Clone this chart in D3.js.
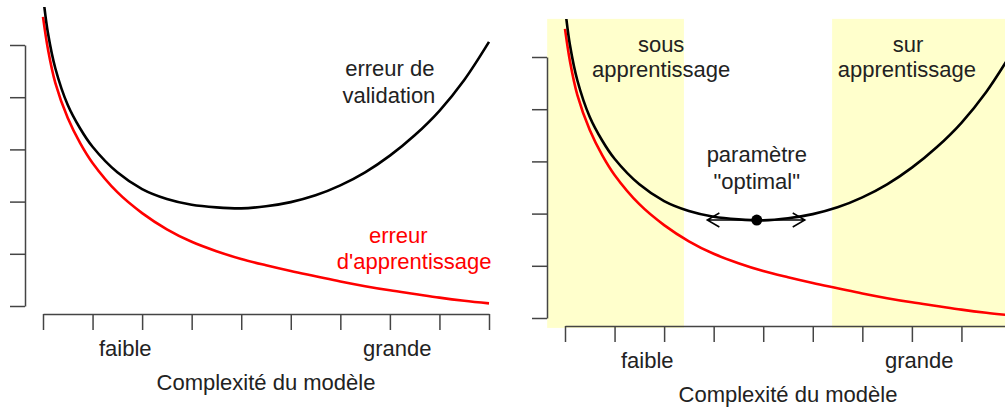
<!DOCTYPE html>
<html>
<head>
<meta charset="utf-8">
<script src="https://cdn.jsdelivr.net/npm/d3@7"></script>
<style>
  html, body { margin: 0; padding: 0; background: #fff; }
  svg text { font-family: "Liberation Sans", Arial, Helvetica, sans-serif; fill: #222; }
</style>
</head>
<body>
<svg id="chart" width="1005" height="410"></svg>
<script>
// ---- data ----
const complexity = [0, 0.1, 0.25, 0.5, 0.75, 1, 1.5, 2, 2.5, 3, 3.5, 4, 4.5, 5, 5.5, 6, 6.5, 7, 7.5, 8, 8.5, 9];
const validationError = [5.95, 5.23, 4.55, 3.85, 3.40, 3.05, 2.56, 2.24, 2.05, 1.94, 1.89, 1.87, 1.91, 1.99, 2.12, 2.31, 2.56, 2.88, 3.27, 3.74, 4.33, 5.06];
const trainingError = [5.54, 4.92, 4.27, 3.6, 3.12, 2.74, 2.18, 1.78, 1.47, 1.23, 1.05, 0.9, 0.78, 0.67, 0.57, 0.47, 0.38, 0.3, 0.23, 0.16, 0.1, 0.05];
const xTicks = [0, 1, 2, 3, 4, 5, 6, 7, 8, 9];
const yTicks = [0, 1, 2, 3, 4, 5];
const xTickLabels = ["faible", "grande"];
const xTickLabelAt = [1.66, 7.15];
const xTitle = "Complexité du modèle";
const optimum = { x: 3.87, y: 1.877 };
const arrowSpan = [2.87, 4.84];
const underfitZone = [-0.36, 2.4];
const overfitZone = [5.39, 9.36];

// ---- layout ----
const svg = d3.select("#chart");
const FONT = 22;
const x = d3.scaleLinear().domain([0, 9]).range([43, 489]);
const y = d3.scaleLinear().domain([0, 5]).range([306, 45]);
const xLim = [-0.36, 9.36];
const yLim = [-0.19, 5.73];

function panel(dx, dy, id, annotate) {
  const g = svg.append("g").attr("transform", `translate(${dx},${dy})`);
  const clipId = "clip" + id;
  g.append("clipPath").attr("id", clipId).append("rect")
    .attr("x", x(xLim[0])).attr("y", y(yLim[1]))
    .attr("width", x(xLim[1]) - x(xLim[0])).attr("height", y(yLim[0]) - y(yLim[1]));

  annotate.background(g);

  const line = d3.line().x((d, i) => x(complexity[i])).y(d => y(d)).curve(d3.curveCatmullRom.alpha(0.5));
  const curves = g.append("g").attr("clip-path", `url(#${clipId})`);
  curves.append("path").datum(trainingError).attr("d", line)
    .attr("fill", "none").attr("stroke", "#ff0000").attr("stroke-width", 2.6);
  curves.append("path").datum(validationError).attr("d", line)
    .attr("fill", "none").attr("stroke", "#000").attr("stroke-width", 2.6);

  // axes
  const xAxis = d3.axisBottom(x).tickValues(xTicks).tickFormat("").tickSize(16).tickSizeOuter(0);
  const yAxis = d3.axisLeft(y).tickValues(yTicks).tickFormat("").tickSize(15).tickSizeOuter(0);
  const gx = g.append("g").attr("transform", "translate(0,314)").call(xAxis);
  const gy = g.append("g").attr("transform", "translate(25,0)").call(yAxis);
  [gx, gy].forEach(a => {
    a.selectAll("path, line").attr("stroke", "#444").attr("stroke-width", 1.5);
  });

  g.selectAll("text.xlab").data(xTickLabels).enter().append("text")
    .attr("class", "xlab")
    .attr("x", (d, i) => x(xTickLabelAt[i])).attr("y", 356)
    .attr("text-anchor", "middle").attr("font-size", FONT).text(d => d);
  g.append("text").attr("x", x(4.5)).attr("y", 390)
    .attr("text-anchor", "middle").attr("font-size", FONT).text(xTitle);

  annotate.foreground(g);
}

function txt(g, s, xd, yd, color) {
  g.append("text").attr("x", x(xd)).attr("y", y(yd))
    .attr("text-anchor", "middle").attr("font-size", FONT)
    .style("fill", color || "#222").text(s);
}

// Left panel
panel(0, 0, "L", {
  background: () => {},
  foreground: g => {
    txt(g, "erreur de", 7.0, 4.41);
    txt(g, "validation", 6.98, 3.89);
    txt(g, "erreur", 7.17, 1.21, "#ff0000");
    txt(g, "d'apprentissage", 7.49, 0.71, "#ff0000");
  }
});

// Right panel
panel(522, 12, "R", {
  background: g => {
    [underfitZone, overfitZone].forEach(z => {
      g.append("rect")
        .attr("x", x(z[0])).attr("y", y(yLim[1]))
        .attr("width", x(z[1]) - x(z[0])).attr("height", y(yLim[0]) - y(yLim[1]))
        .attr("fill", "#ffffcc");
    });
  },
  foreground: g => {
    txt(g, "sous", 1.94, 5.10);
    txt(g, "apprentissage", 1.94, 4.62);
    txt(g, "sur", 6.92, 5.10);
    txt(g, "apprentissage", 6.90, 4.62);
    txt(g, "paramètre", 3.87, 2.99);
    txt(g, "\"optimal\"", 3.87, 2.47);
    // double arrow
    const ay = y(optimum.y);
    const x0 = x(arrowSpan[0]), x1 = x(arrowSpan[1]);
    const hl = 14, ha = Math.PI / 6;
    const hx = hl * Math.cos(ha), hy = hl * Math.sin(ha);
    const p = d3.path();
    p.moveTo(x0, ay); p.lineTo(x1, ay);
    p.moveTo(x0 + hx, ay - hy); p.lineTo(x0, ay); p.lineTo(x0 + hx, ay + hy);
    p.moveTo(x1 - hx, ay - hy); p.lineTo(x1, ay); p.lineTo(x1 - hx, ay + hy);
    g.append("path").attr("d", p.toString()).attr("fill", "none")
      .attr("stroke", "#000").attr("stroke-width", 1.5);
    g.append("circle").attr("cx", x(optimum.x)).attr("cy", ay).attr("r", 5.5).attr("fill", "#000");
  }
});
</script>
</body>
</html>
